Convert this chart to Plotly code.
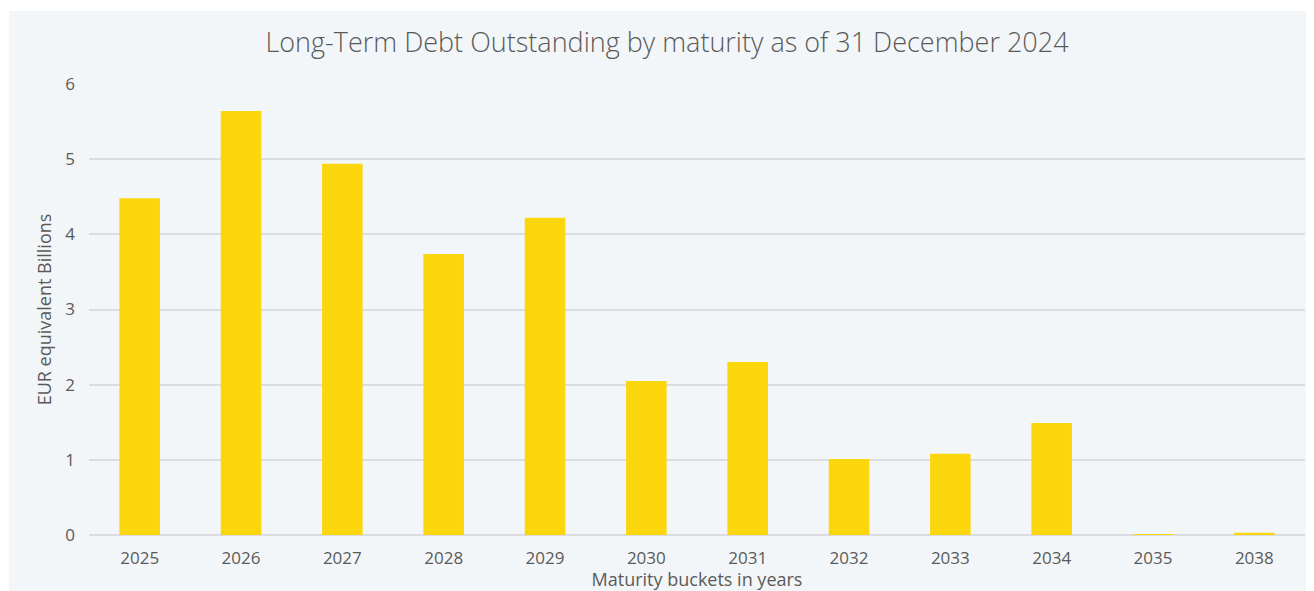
import plotly.graph_objects as go

categories = ["2025", "2026", "2027", "2028", "2029", "2030", "2031", "2032", "2033", "2034", "2035", "2038"]
values = [4.48, 5.64, 4.94, 3.74, 4.22, 2.05, 2.30, 1.01, 1.08, 1.49, 0.01, 0.03]
y_ticks = [0, 1, 2, 3, 4, 5, 6]

# page has an 8px body margin, so layout is offset accordingly
OFF = 8
W, H = 1314 - OFF, 591 - OFF
L, R, T, B = 89 - OFF, 9, 84 - OFF, 56
pw, ph = W - L - R, H - T - B

def px_x(x):
    return (x - OFF - L) / pw

def px_y(y):
    return (H - B - (y - OFF)) / ph

font_family = "Open Sans"
grey = "#5a5a5a"

fig = go.Figure(go.Bar(
    x=categories, y=values,
    marker=dict(color="#FCD60C", line=dict(width=0)),
    width=0.4,
))

fig.add_shape(type="rect", xref="paper", yref="paper",
              x0=px_x(9), x1=px_x(1330), y0=px_y(620), y1=px_y(11),
              fillcolor="#F3F6F8", line=dict(width=0), layer="below")

fig.update_layout(
    width=W, height=H,
    margin=dict(l=L, r=R, t=T, b=B, autoexpand=False),
    paper_bgcolor="white",
    plot_bgcolor="rgba(0,0,0,0)",
    font=dict(family=font_family, color=grey, size=17),
    title=dict(text="Long-Term Debt Outstanding by maturity as of 31 December 2024",
               x=(667 - OFF) / W, xanchor="center", xref="container",
               y=1 - (43 - OFF) / H, yanchor="middle", yref="container",
               font=dict(size=27, color=grey, family=font_family, weight=300)),
    showlegend=False,
    bargap=0.6,
    xaxis=dict(
        title=dict(text="Maturity buckets in years", font=dict(size=18), standoff=4),
        tickfont=dict(size=17),
        showgrid=False, showline=False, zeroline=False,
        ticks="", ticklabelstandoff=11,
    ),
    yaxis=dict(
        title=dict(text="EUR equivalent Billions", font=dict(size=18), standoff=8),
        range=[0, 6], tickvals=y_ticks, ticktext=[str(v) for v in y_ticks],
        tickfont=dict(size=17),
        showgrid=True, gridcolor="#DADCDF", gridwidth=2,
        zeroline=True, zerolinecolor="#DADCDF", zerolinewidth=2,
        showline=False, ticks="", ticklabelstandoff=13,
    ),
)

fig.write_html("out.html")
